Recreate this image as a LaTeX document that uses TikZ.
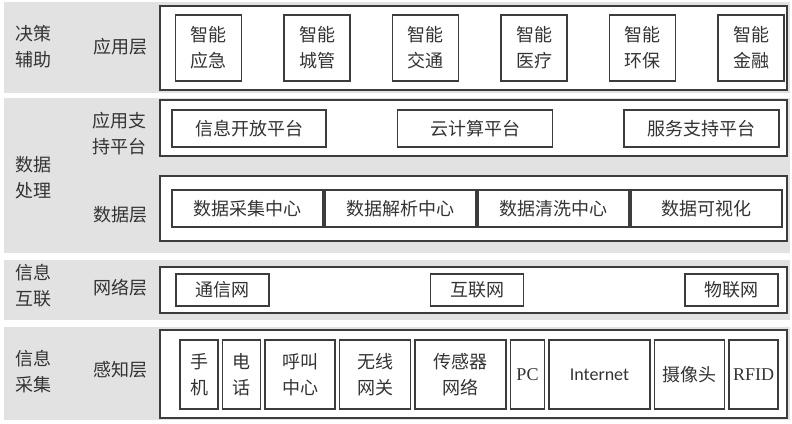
\documentclass[tikz,border=0pt]{standalone}
\usepackage{fontspec}
\setmainfont{Noto Sans CJK SC}
\newfontfamily\latinserif{Liberation Serif}
\newfontfamily\latinsans{Carlito}
\usetikzlibrary{positioning, backgrounds}

\definecolor{bandgray}{HTML}{E2E2E2}
\definecolor{linegray}{HTML}{3C3C3C}
\definecolor{textgray}{HTML}{333333}

\begin{document}
\begin{tikzpicture}[
        x=1pt, y=-1pt,
        node distance=42.5pt,
        layer_box/.style={draw=linegray, line width=2pt, fill=white, minimum width=627pt, inner sep=0pt},
        item_box/.style={draw=linegray, line width=1.4pt, fill=white, align=center, inner sep=0pt, outer sep=0pt, text=textgray, font=\fontsize{18}{26}\selectfont},
        app_node/.style={item_box, minimum width=66pt, minimum height=66pt},
        platform_node/.style={item_box, minimum width=155pt, minimum height=37pt},
        data_node/.style={item_box, minimum width=151pt, minimum height=37pt},
        net_node/.style={item_box, minimum width=93pt, minimum height=32pt},
        sense_node/.style={item_box, minimum height=69pt},
        tag_node/.style={align=center, inner sep=0pt, text=textgray, font=\fontsize{18}{26}\selectfont}
    ]
        \useasboundingbox (0,0) rectangle (792,423);

        % Layers
        \node (app_layer) [layer_box, minimum height=84pt] at (473.5,48) {};
        \node (support_layer) [layer_box, minimum height=56pt] at (473.5,128) {};
        \node (data_layer) [layer_box, minimum height=65pt] at (473.5,208.5) {};
        \node (net_layer) [layer_box, minimum height=46pt] at (473.5,290) {};
        \node (sense_layer) [layer_box, minimum height=88pt] at (473.5,374) {};

        % Left labels
        \node (decision) [tag_node] at (33,47) {决策\\辅助};
        \node (app_tag) [tag_node] at (120,47) {应用层};
        \node (processing) [tag_node] at (33,178) {数据\\处理};
        \node (support_tag) [tag_node, text width=56pt, align=left] at (120,134) {应用支\\持平台};
        \node (data_tag) [tag_node] at (120,215) {数据层};
        \node (interconnect) [tag_node] at (33,286) {信息\\互联};
        \node (net_tag) [tag_node] at (120,288) {网络层};
        \node (collection) [tag_node] at (33,372) {信息\\采集};
        \node (sense_tag) [tag_node] at (120,370) {感知层};

        % Application layer
        \node (emergency) [app_node] at (208.5,48) {智能\\应急};
        \node (city) [app_node, right=of emergency] {智能\\城管};
        \node (traffic) [app_node, right=of city] {智能\\交通};
        \node (medical) [app_node, right=of traffic] {智能\\医疗};
        \node (environment) [app_node, right=of medical] {智能\\环保};
        \node (finance) [app_node, right=of environment] {智能\\金融};

        % Support platforms
        \node (open_info) [platform_node, minimum width=154pt] at (249,128.5) {信息开放平台};
        \node (cloud) [platform_node, right=71.5pt of open_info] {云计算平台};
        \node (service) [platform_node, right=71.5pt of cloud] {服务支持平台};

        % Data layer
        \node (acquire) [data_node] at (247.5,208.5) {数据采集中心};
        \node (parse) [data_node, right=2pt of acquire] {数据解析中心};
        \node (clean) [data_node, right=2pt of parse] {数据清洗中心};
        \node (visual) [data_node, right=2pt of clean] {数据可视化};

        % Network layer
        \node (telecom) [net_node] at (222.5,290) {通信网};
        \node (internet_net) [net_node, right=161.5pt of telecom] {互联网};
        \node (iot) [net_node, right=161.5pt of internet_net] {物联网};

        % Sensing layer
        \node (phone) [sense_node, minimum width=38pt] at (199,374.5) {手\\机};
        \node (telephone) [sense_node, minimum width=38pt, right=4.5pt of phone] {电\\话};
        \node (callcenter) [sense_node, minimum width=70pt, right=4.5pt of telephone] {呼叫\\中心};
        \node (gateway) [sense_node, minimum width=71pt, right=4.5pt of callcenter] {无线\\网关};
        \node (sensornet) [sense_node, minimum width=91pt, right=4.5pt of gateway] {传感器\\网络};
        \node (pc) [sense_node, minimum width=34pt, right=4.5pt of sensornet, font=\latinserif\fontsize{18}{26}\selectfont] {PC};
        \node (internet) [sense_node, minimum width=101pt, right=4.5pt of pc, font=\latinsans\fontsize{18}{26}\selectfont] {Internet};
        \node (camera) [sense_node, minimum width=70pt, right=4.5pt of internet] {摄像头};
        \node (rfid) [sense_node, minimum width=49pt, right=4.5pt of camera, font=\latinserif\fontsize{18}{26}\selectfont] {RFID};

        % Bands
        \begin{scope}[on background layer]
            \fill [bandgray] (4,2) rectangle (790,93);
            \fill [bandgray] (4,98) rectangle (790,253);
            \fill [bandgray] (4,260) rectangle (790,320);
            \fill [bandgray] (4,327) rectangle (790,420);
        \end{scope}
    \end{tikzpicture}
\end{document}
